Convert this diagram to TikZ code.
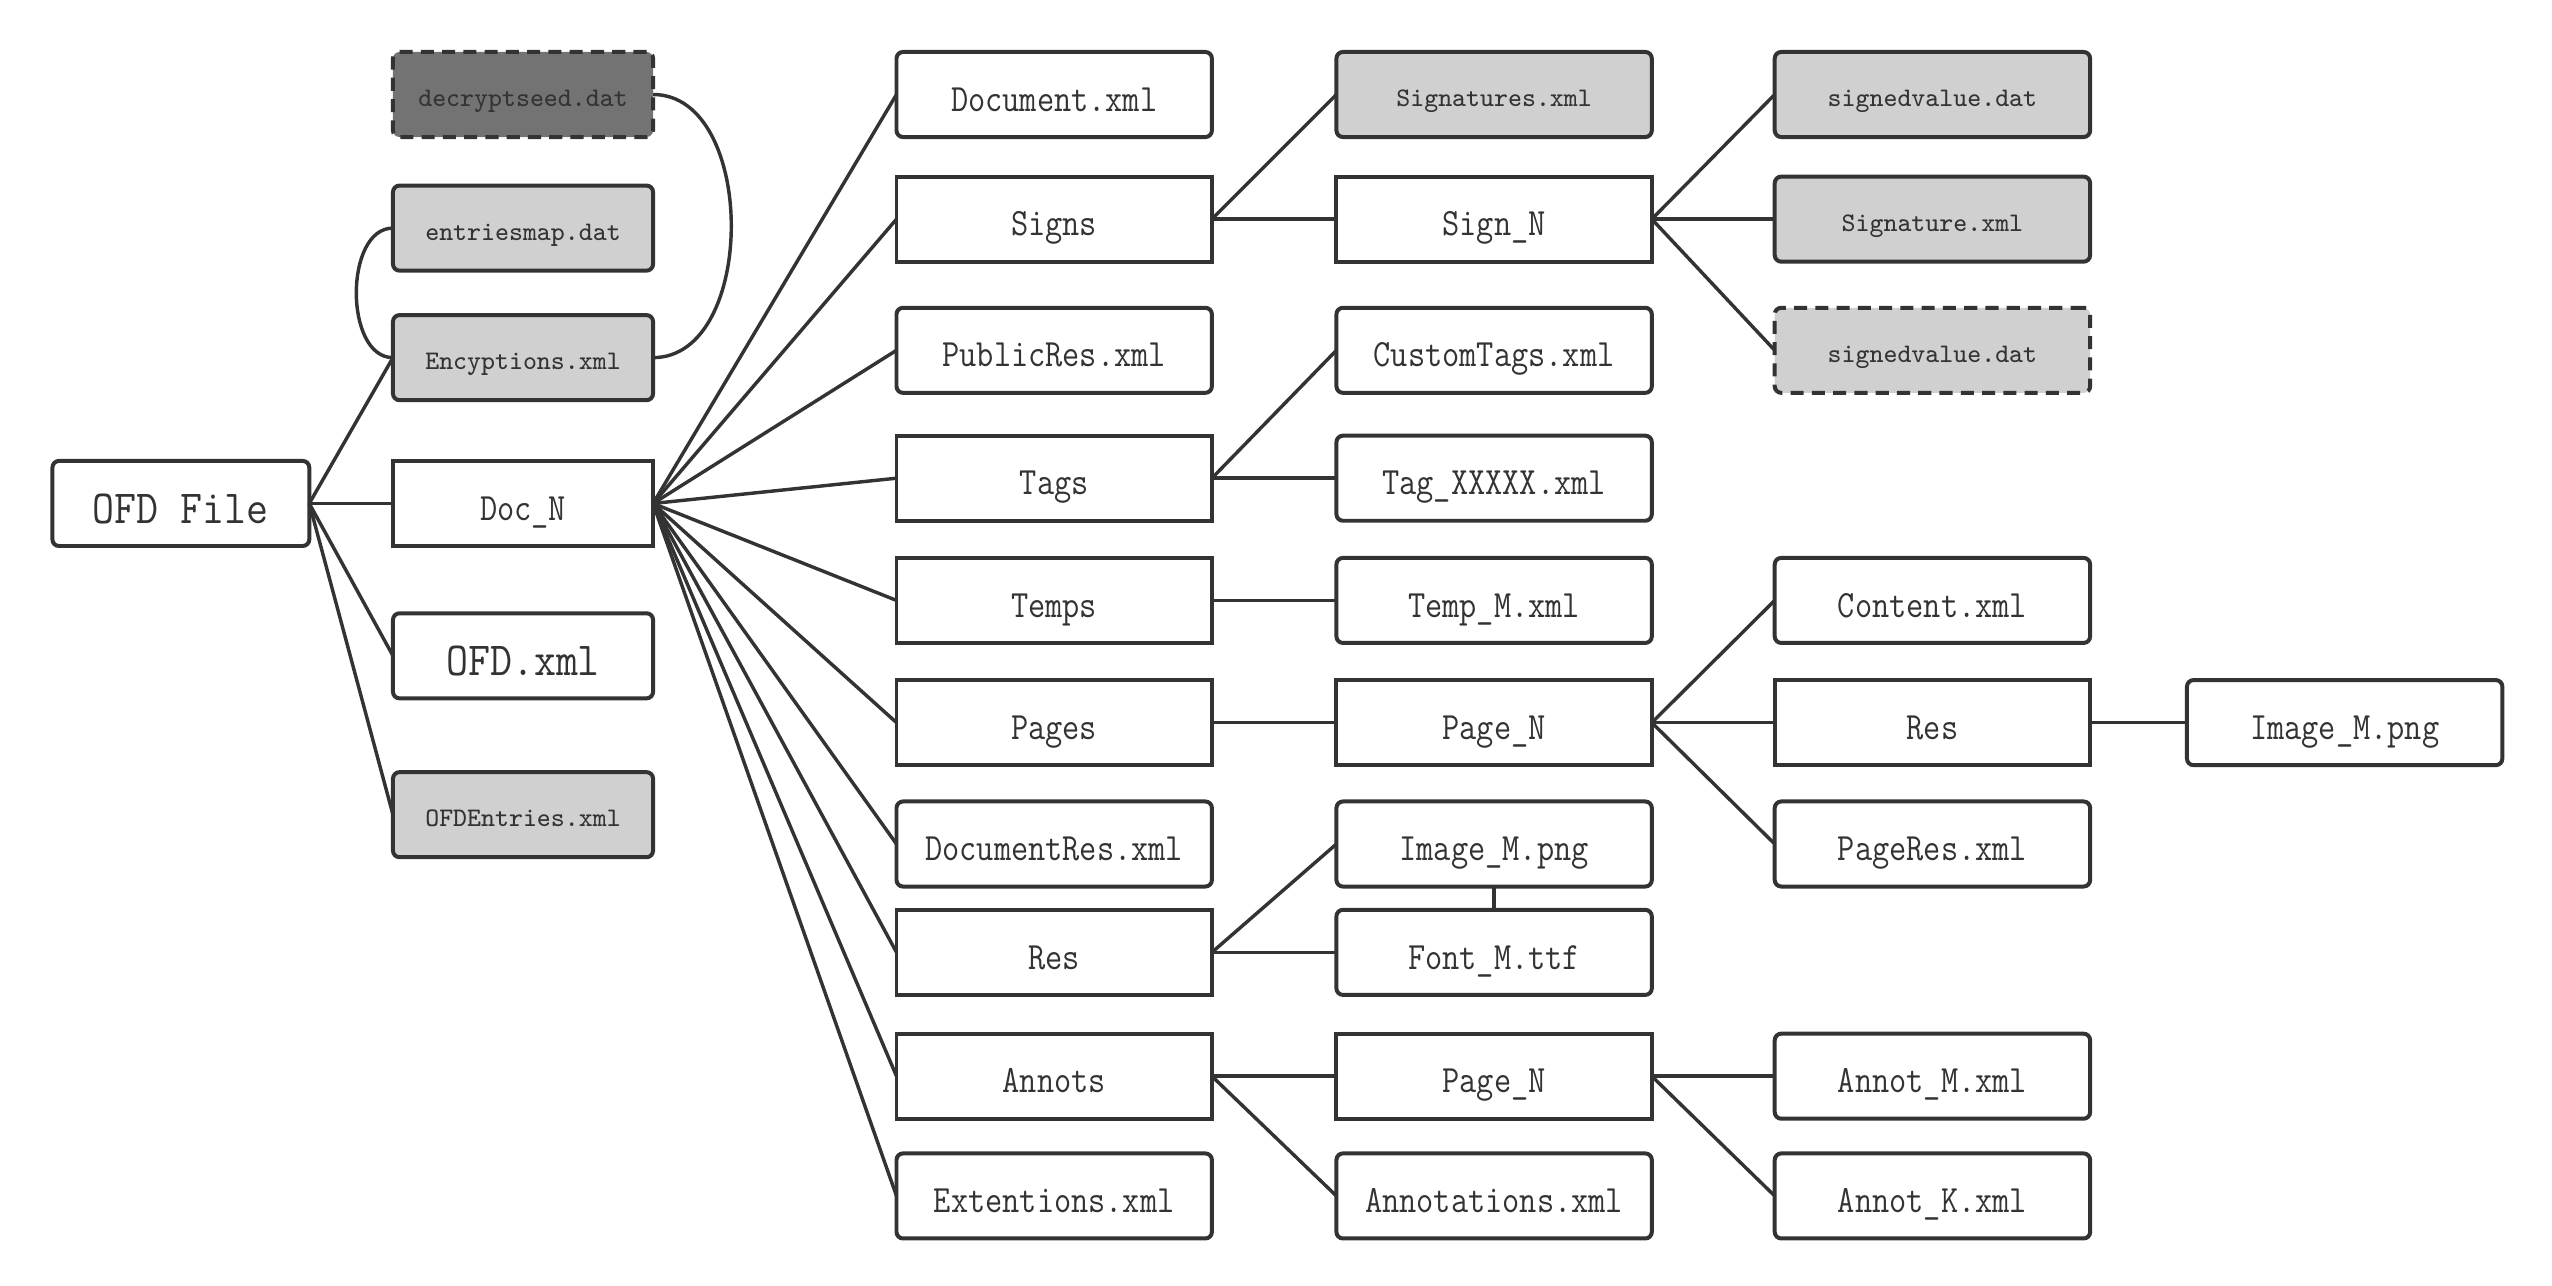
\documentclass[tikz,border=0pt]{standalone}
\usepackage{fontspec}
\newfontfamily\boxfont[FakeStretch=0.865]{Latin Modern Mono}
\newfontfamily\bigboxfont[FakeStretch=0.9]{Latin Modern Mono}
\newfontfamily\smallboxfont[FakeStretch=0.98]{Latin Modern Mono}
\definecolor{ln}{HTML}{333333}
\definecolor{gfill}{HTML}{D0D0D0}
\definecolor{dfill}{HTML}{737373}
\begin{document}
\begin{tikzpicture}[x=0.498pt,y=-0.498pt,
  base/.style={draw=ln, line width=1.22pt, minimum width=96.4pt, minimum height=26pt,
    inner sep=0pt, outer sep=0pt, text=ln, text height=10.2pt, text depth=0pt,
    font={\boxfont\fontsize{11.8}{14}\selectfont}},
  filebox/.style={base, rounded corners=2pt, fill=white},
  folderbox/.style={base, fill=white},
  graybox/.style={base, rounded corners=2pt, fill=gfill, text height=7.3pt,
    font={\smallboxfont\fontsize{8.2}{10}\selectfont}},
  darkbox/.style={graybox, fill=dfill},
  dashbox/.style={dash pattern=on 4pt off 2.5pt},
  bigtext/.style={text height=12pt, font={\bigboxfont\fontsize{14.5}{17}\selectfont}},
  narrow/.style={minimum width=79.5pt},
  conn/.style={draw=ln, line width=1.05pt}]
\useasboundingbox (0pt,0pt) rectangle (780pt,-393pt);
% column A / B
\node[filebox, bigtext, minimum width=78.5pt] (ofd) at (111,309) {OFD File};
\node[darkbox, dashbox, narrow] (seed) at (321,58) {decryptseed.dat};
\node[graybox, narrow] (emap) at (321,140) {entriesmap.dat};
\node[graybox, narrow] (enc) at (321,219.5) {Encyptions.xml};
\node[folderbox, narrow] (doc) at (321,309) {Doc\_N};
\node[filebox, bigtext, narrow] (ofdxml) at (321,402.5) {OFD.xml};
\node[graybox, narrow] (ofdent) at (321,500) {OFDEntries.xml};
% column C
\node[filebox] (docxml) at (647,58) {Document.xml};
\node[folderbox] (signs) at (647,134.5) {Signs};
\node[filebox] (pubres) at (647,215) {PublicRes.xml};
\node[folderbox] (tags) at (647,293.5) {Tags};
\node[folderbox] (temps) at (647,368.5) {Temps};
\node[folderbox] (pages) at (647,443.5) {Pages};
\node[filebox] (docres) at (647,518) {DocumentRes.xml};
\node[folderbox] (res) at (647,584.5) {Res};
\node[folderbox] (annots) at (647,660.5) {Annots};
\node[filebox] (ext) at (647,734) {Extentions.xml};
% column D
\node[graybox] (sigs) at (917,58) {Signatures.xml};
\node[folderbox] (signn) at (917,134.5) {Sign\_N};
\node[filebox] (ctags) at (917,215) {CustomTags.xml};
\node[filebox] (tagx) at (917,293.5) {Tag\_XXXXX.xml};
\node[filebox] (tempm) at (917,368.5) {Temp\_M.xml};
\node[folderbox] (pagen) at (917,443.5) {Page\_N};
\node[filebox] (imgm) at (917,518) {Image\_M.png};
\node[filebox] (fontm) at (917,584.5) {Font\_M.ttf};
\node[folderbox] (apagen) at (917,660.5) {Page\_N};
\node[filebox] (annotations) at (917,734) {Annotations.xml};
% column E
\node[graybox] (sv1) at (1186,58) {signedvalue.dat};
\node[graybox] (sigxml) at (1186,134.5) {Signature.xml};
\node[graybox, dashbox] (sv2) at (1186,215) {signedvalue.dat};
\node[filebox] (content) at (1186,368.5) {Content.xml};
\node[folderbox] (pres) at (1186,443.5) {Res};
\node[filebox] (pageres) at (1186,518) {PageRes.xml};
\node[filebox] (annotm) at (1186,660.5) {Annot\_M.xml};
\node[filebox] (annotk) at (1186,734) {Annot\_K.xml};
% column F
\node[filebox] (pimg) at (1439,443.5) {Image\_M.png};
% connectors
\draw[conn] (ofd.east) -- (enc.west);
\draw[conn] (ofd.east) -- (doc.west);
\draw[conn] (ofd.east) -- (ofdxml.west);
\draw[conn] (ofd.east) -- (ofdent.west);
\draw[conn] (emap.west) .. controls ++(-30,0) and ++(-30,0) .. (enc.west);
\draw[conn] (seed.east) .. controls ++(64,0) and ++(64,0) .. (enc.east);
\foreach \n in {docxml,signs,pubres,tags,temps,pages,docres,res,annots,ext}
  \draw[conn] (doc.east) -- (\n.west);
\draw[conn] (signs.east) -- (sigs.west);
\draw[conn] (signs.east) -- (signn.west);
\draw[conn] (signn.east) -- (sv1.west);
\draw[conn] (signn.east) -- (sigxml.west);
\draw[conn] (signn.east) -- (sv2.west);
\draw[conn] (tags.east) -- (ctags.west);
\draw[conn] (tags.east) -- (tagx.west);
\draw[conn] (temps.east) -- (tempm.west);
\draw[conn] (pages.east) -- (pagen.west);
\draw[conn] (pagen.east) -- (content.west);
\draw[conn] (pagen.east) -- (pres.west);
\draw[conn] (pagen.east) -- (pageres.west);
\draw[conn] (pres.east) -- (pimg.west);
\draw[conn] (res.east) -- (imgm.west);
\draw[conn] (res.east) -- (fontm.west);
\draw[conn] (imgm.south) -- (fontm.north);
\draw[conn] (annots.east) -- (apagen.west);
\draw[conn] (annots.east) -- (annotations.west);
\draw[conn] (apagen.east) -- (annotm.west);
\draw[conn] (apagen.east) -- (annotk.west);
\end{tikzpicture}
\end{document}
